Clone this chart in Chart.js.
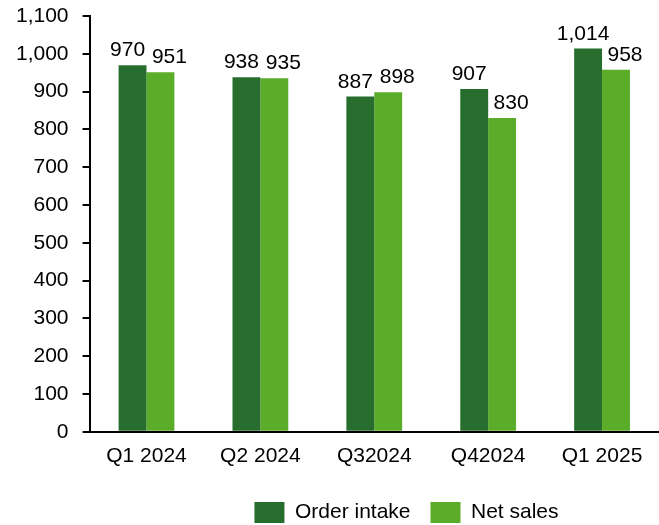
<!DOCTYPE html>
<html>
<head>
<meta charset="utf-8">
<script src="https://cdn.jsdelivr.net/npm/chart.js@4/dist/chart.umd.min.js"></script>
<style>
  html, body { margin: 0; padding: 0; background: #fff; }
  #wrap { width: 659px; height: 525px; }
</style>
</head>
<body>
<div id="wrap"><canvas id="barChart" width="659" height="525"></canvas></div>
<script>
const quarters = ['Q1 2024', 'Q2 2024', 'Q32024', 'Q42024', 'Q1 2025'];
const orderIntake = [970, 938, 887, 907, 1014];
const netSales = [951, 935, 898, 830, 958];
const yTicks = [0, 100, 200, 300, 400, 500, 600, 700, 800, 900, 1000, 1100];

const FONT = '"Liberation Sans", Arial, sans-serif';

// value labels above bars (dark ones sit a bit left, light ones a bit right)
const labelShift = [-5, 9];
const valueLabels = {
    id: 'valueLabels',
    afterDatasetsDraw(chart) {
        const ctx = chart.ctx;
        ctx.save();
        ctx.font = '21px ' + FONT;
        ctx.fillStyle = '#000';
        ctx.textAlign = 'center';
        ctx.textBaseline = 'alphabetic';
        chart.data.datasets.forEach((ds, i) => {
            chart.getDatasetMeta(i).data.forEach((bar, j) => {
                ctx.fillText(ds.data[j].toLocaleString('en-US'), bar.x + labelShift[i], bar.y - 9);
            });
        });
        ctx.restore();
    }
};

// the legend in the original sits right of centre and a bit lower
const legendShift = {
    id: 'legendShift',
    afterLayout(chart) {
        const lg = chart.legend;
        if (!lg) return;
        lg.left += 69;
        lg.right += 69;
        lg.top += 9;
        lg.bottom += 9;
    }
};

const ctx = document.getElementById('barChart').getContext('2d');
new Chart(ctx, {
    type: 'bar',
    data: {
        labels: quarters,
        datasets: [
            { label: 'Order intake', data: orderIntake, backgroundColor: '#276E2E' },
            { label: 'Net sales', data: netSales, backgroundColor: '#5BAD29' }
        ]
    },
    options: {
        responsive: false,
        animation: false,
        categoryPercentage: 0.49,
        barPercentage: 1.0,
        layout: { padding: { top: 16, left: 16, right: 0, bottom: 1 } },
        plugins: {
            tooltip: { enabled: false },
            legend: {
                position: 'bottom',
                labels: {
                    boxWidth: 30,
                    boxHeight: 21,
                    padding: 20,
                    color: '#000',
                    font: { family: FONT, size: 21 }
                }
            }
        },
        scales: {
            x: {
                grid: { display: false },
                border: { display: true, color: '#000', width: 2 },
                ticks: { color: '#000', padding: 4, font: { family: FONT, size: 21 } }
            },
            y: {
                min: 0,
                max: 1100,
                afterBuildTicks(scale) {
                    scale.ticks = yTicks.map(v => ({ value: v }));
                },
                grid: {
                    drawOnChartArea: false,
                    drawTicks: true,
                    // long tick slot so labels sit away from the axis; only the last 7px are inked
                    tickLength: 21,
                    tickBorderDash: [0, 14, 7, 0],
                    color: '#000',
                    lineWidth: 2
                },
                border: { display: true, color: '#000', width: 2 },
                ticks: {
                    color: '#000',
                    padding: 0,
                    font: { family: FONT, size: 21 },
                    callback: v => v.toLocaleString('en-US')
                }
            }
        }
    },
    plugins: [valueLabels, legendShift]
});
</script>
</body>
</html>
